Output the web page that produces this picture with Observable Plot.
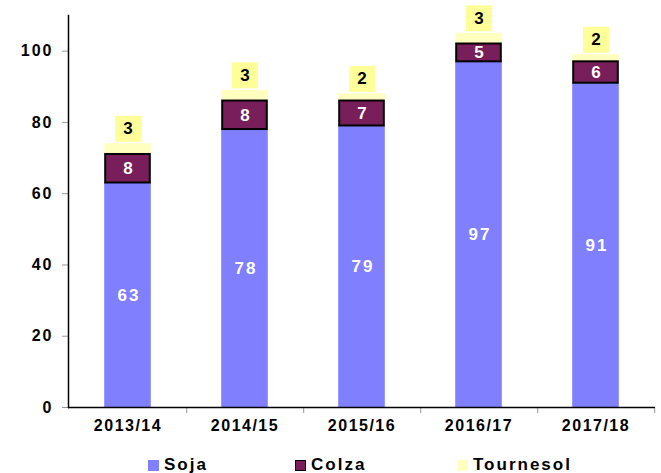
<!DOCTYPE html>
<html>
<head>
<meta charset="utf-8">
<script src="https://cdn.jsdelivr.net/npm/d3@7"></script>
<script src="https://cdn.jsdelivr.net/npm/@observablehq/plot@0.6"></script>
<style>
  body { margin: 0; background: #fff; font-family: "Liberation Sans", Arial, sans-serif; }
  #wrap { width: 661px; position: relative; }
  #wrap svg g[aria-label="y-axis tick label"] text { font-size: 16px; font-weight: bold; letter-spacing: 2px; }
  #wrap svg g[aria-label="x-axis tick label"] text { font-size: 16px; font-weight: bold; letter-spacing: 1.5px; }
  #wrap svg g[aria-label="text"] text { letter-spacing: 2px; }
  #legend { position: relative; height: 33px; width: 661px; font-weight: bold; font-size: 17px; letter-spacing: 2px; }
  .sw { position: absolute; top: 20px; width: 11px; height: 11px; box-sizing: border-box; }
  .lt { position: absolute; top: 15px; line-height: 20px; color: #000; }
</style>
</head>
<body>
<div id="wrap"></div>
<script>
const years = ["2013/14", "2014/15", "2015/16", "2016/17", "2017/18"];
const soja = [63, 78, 79, 97, 91];
const colza = [8, 8, 7, 5, 6];
const tournesol = [3, 3, 2, 3, 2];
const yTicks = [0, 20, 40, 60, 80, 100];
const seriesNames = ["Soja", "Colza", "Tournesol"];
const colors = { Soja: "#8080ff", Colza: "#781e5a", Tournesol: "#ffffc0" };

const rows = years.map((yr, i) => {
  const a = soja[i], b = colza[i], c = tournesol[i];
  return { yr, soja: a, colza: b, tournesol: c,
    s1: 0, s2: a, c1: a, c2: a + b, t1: a + b, t2: a + b + c };
});

const W = 661, H = 440, ML = 68, MR = 6, MT = 15, MB = 33;
const band = (W - ML - MR) / years.length;
const inset = (band - 47) / 2;

const chart = Plot.plot({
  width: W, height: H,
  marginLeft: ML, marginRight: MR, marginTop: MT, marginBottom: MB,
  style: { fontFamily: "'Liberation Sans', Arial, sans-serif", background: "#fff" },
  x: { domain: years, padding: 0, label: null },
  y: { domain: [0, 110], label: null },
  marks: [
    Plot.rectY(rows, { x: "yr", y1: "s1", y2: "s2", fill: colors.Soja, insetLeft: inset, insetRight: inset }),
    Plot.rectY(rows, { x: "yr", y1: "t1", y2: "t2", fill: colors.Tournesol, insetLeft: inset, insetRight: inset }),
    Plot.rectY(rows, { x: "yr", y1: "c1", y2: "c2", fill: colors.Colza, stroke: "#000", strokeWidth: 2, insetLeft: inset + 1, insetRight: inset + 1 }),
    Plot.text(rows, { x: "yr", y: d => (d.s1 + d.s2) / 2, text: "soja", fill: "#fff", fontWeight: "bold", fontSize: 17, dx: 1 }),
    Plot.text(rows, { x: "yr", y: d => (d.c1 + d.c2) / 2, text: "colza", fill: "#fff", fontWeight: "bold", fontSize: 17, dx: 1 }),
    Plot.dot(rows, { x: "yr", y: "t2", symbol: "square", r: 14.67, fill: "#ffff99", stroke: "none", dy: -15 }),
    Plot.text(rows, { x: "yr", y: "t2", text: "tournesol", fill: "#000", fontWeight: "bold", fontSize: 17, dy: -15, dx: 1 }),
    Plot.axisY({ ticks: yTicks, tickSize: 6, tickPadding: 9, stroke: "#999", fill: "#000", fontWeight: "bold", fontSize: 16, tickFormat: d => d, label: null }),
    Plot.axisX({ tickSize: 0, tickPadding: 12, fill: "#000", fontWeight: "bold", fontSize: 16, label: null }),
    Plot.ruleX(years, { x: d => d, dx: band / 2, y1: 0, y2: 0, insetBottom: -6, stroke: "#999" }),
    Plot.frame({ anchor: "left", stroke: "#000", strokeWidth: 1.5 }),
    Plot.ruleY([0], { stroke: "#000", strokeWidth: 1.5 })
  ]
});

const wrap = document.getElementById("wrap");
wrap.appendChild(chart);

const legend = document.createElement("div");
legend.id = "legend";
const legendPos = { Soja: 148, Colza: 295, Tournesol: 457 };
seriesNames.forEach(name => {
  const sw = document.createElement("div");
  sw.className = "sw";
  sw.style.left = legendPos[name] + "px";
  sw.style.background = colors[name];
  if (name === "Colza") sw.style.border = "1.5px solid #000";
  legend.appendChild(sw);
  const t = document.createElement("span");
  t.className = "lt";
  t.style.left = (legendPos[name] + 16) + "px";
  t.textContent = name;
  legend.appendChild(t);
});
wrap.appendChild(legend);
</script>
</body>
</html>
